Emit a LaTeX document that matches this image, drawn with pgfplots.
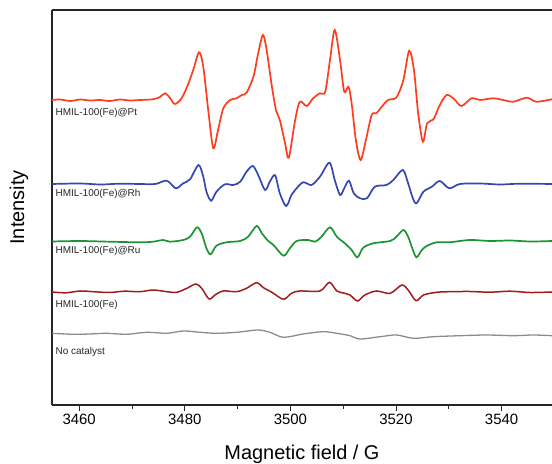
\documentclass[border=0pt]{standalone}
\usepackage{pgfplots}
\pgfplotsset{compat=1.18}
\usepackage{fontspec}
\setmainfont{Liberation Sans}
\setsansfont{Liberation Sans}

\definecolor{ptcol}{RGB}{255,60,30}
\definecolor{rhcol}{RGB}{52,72,176}
\definecolor{rucol}{RGB}{28,148,52}
\definecolor{fecol}{RGB}{160,28,28}
\definecolor{nocol}{RGB}{140,140,140}

\begin{document}
\begin{tikzpicture}
\useasboundingbox (-52bp,-59bp) rectangle (500bp,405bp);
\begin{axis}[
    at={(0,0)}, anchor=south west,
    scale only axis,
    width=500bp, height=395bp,
    xmin=3454.85, xmax=3549.55,
    ymin=0, ymax=395,
    axis x line*=box, axis y line*=left,
    axis line style={line width=1.1bp, black!85},
    xtick={3460,3480,3500,3520,3540},
    minor x tick num=1,
    xtick pos=bottom,
    ytick=\empty,
    tick align=outside,
    major tick length=6bp, minor tick length=3.5bp,
    tick style={line width=0.9bp, black!85},
    /pgf/number format/1000 sep={},
    /pgf/number format/assume math mode=true,
    ticklabel style={font=\fontsize{15}{15}\selectfont},
    xlabel={Magnetic field / G},
    ylabel={Intensity},
    xlabel style={font=\fontsize{20}{20}\selectfont, at={(axis description cs:0.5,-0.1367)}, anchor=base},
    ylabel style={font=\fontsize{20}{20}\selectfont, at={(axis description cs:-0.066,0.5)}, anchor=center},
    every axis plot/.append style={smooth, tension=0.5},
    clip=true,
]
% HMIL-100(Fe)@Pt
\addplot[ptcol, line width=1.7bp] coordinates {
(3454.85,305) (3456.4,305.5) (3458.3,304) (3460.2,305.5) (3462.0,304.5) (3463.9,305)
(3465.8,304) (3467.7,305.5) (3469.6,304.5) (3471.5,305) (3474.0,305.7) (3475.3,308)
(3476.3,311.7) (3477.2,307) (3478.1,301) (3479.4,306.7) (3480.7,321.7) (3481.7,336.7)
(3482.7,352.7) (3483.5,338.3) (3484.5,292) (3485.4,256.7) (3486.3,275) (3487.3,296.7)
(3488.6,305) (3489.8,306.7) (3490.8,310) (3491.7,312.3) (3493.0,328.3) (3493.9,351.7)
(3494.8,370) (3495.5,355) (3496.5,318.3) (3497.3,294.3) (3498.0,285) (3499.0,261.7)
(3499.7,247.3) (3500.9,285) (3501.8,303.3) (3503.1,299) (3504.3,306.7) (3505.6,311.7)
(3506.6,313.3) (3507.5,345) (3508.4,375) (3509.4,345) (3510.2,313.3) (3511.0,318.3)
(3511.6,301.7) (3512.4,265) (3513.3,245) (3514.3,265) (3515.4,290) (3516.3,291.7)
(3517.3,298.3) (3518.5,305) (3520.1,307.7) (3521.4,325) (3522.5,354.3) (3523.4,335)
(3524.2,291.7) (3525.1,263.3) (3525.9,281.7) (3527.1,285.7) (3528.3,300) (3529.6,310)
(3531.0,306) (3532.4,299) (3534.3,306.7) (3535.9,305) (3538.4,306.7) (3540.3,305)
(3542.2,303.3) (3544.8,307.3) (3546.6,303.3) (3549.55,305.7)
};
% HMIL-100(Fe)@Rh
\addplot[rhcol, line width=1.7bp] coordinates {
(3454.85,221) (3460.2,221.5) (3464.0,220.5) (3467.7,221.3) (3471.5,221) (3474.4,221)
(3476.6,224.3) (3478.3,216.7) (3479.7,221.7) (3481.0,225.7) (3482.6,240) (3483.5,228.3)
(3484.1,213.3) (3485.0,204.3) (3486.0,213.3) (3487.6,220.7) (3489.2,220) (3490.5,223.3)
(3491.7,233.3) (3492.9,239) (3493.9,230) (3495.2,215) (3496.1,223.3) (3497.1,229.7)
(3498.0,211.7) (3499.2,199) (3500.2,210) (3500.9,215) (3502.4,222.7) (3504.0,220)
(3505.6,228.3) (3507.4,242.3) (3508.4,225) (3509.4,210) (3510.2,216.7) (3511.1,224.3)
(3512.0,211.7) (3513.2,206.7) (3514.5,206.7) (3516.0,218.3) (3518.2,220) (3519.5,225)
(3521.3,235) (3522.3,221.7) (3523.2,206.7) (3523.9,201.7) (3525.2,213.3) (3526.8,218.3)
(3528.3,224) (3530.1,216.7) (3532.1,221) (3535.9,221.5) (3539.7,220.5) (3543.5,221.3)
(3549.55,221)
};
% HMIL-100(Fe)@Ru
\addplot[rucol, line width=1.7bp] coordinates {
(3454.85,163.5) (3460.2,164) (3465.8,163.3) (3471.5,162.7) (3474.0,163.3) (3475.9,165)
(3477.2,163.3) (3479.7,165) (3481.0,168.3) (3482.3,177.7) (3483.2,171.7) (3484.1,156.7)
(3484.9,150.7) (3486.0,159.3) (3487.9,162.7) (3490.5,164) (3492.0,168.3) (3493.6,179)
(3494.6,171.7) (3495.8,164) (3496.8,160) (3498.7,149.3) (3499.9,156.7) (3501.2,164)
(3503.4,165) (3504.7,163.3) (3505.9,168.3) (3507.5,177.7) (3508.8,168.3) (3510.3,161.7)
(3511.6,155) (3512.7,147.7) (3513.8,157.3) (3515.7,161.7) (3518.9,164) (3520.1,168.3)
(3521.4,175) (3522.3,168.3) (3523.2,155) (3523.9,147.7) (3524.9,155) (3525.8,159)
(3527.7,162.7) (3530.1,162.7) (3534.0,165) (3537.8,164) (3541.6,164.5) (3545.4,163.5)
(3549.55,164)
};
% HMIL-100(Fe)
\addplot[fecol, line width=1.5bp] coordinates {
(3454.85,113) (3457.5,112.2) (3460.2,114) (3463,113.2) (3465.8,112.5) (3468.5,113.8)
(3471.5,113.3) (3474.0,115) (3476.6,113.3) (3478.5,112.7) (3480.4,116.7) (3482.1,121)
(3483.2,116.7) (3484.6,106) (3485.7,110) (3487.3,114) (3489.8,113.3) (3491.7,116.7)
(3493.6,122.3) (3494.9,117.3) (3496.5,112.7) (3498.7,105.7) (3500.2,111.7) (3501.8,114)
(3505.6,114) (3507.4,122.7) (3508.8,114) (3510.3,111.7) (3511.3,110) (3512.7,104)
(3514.1,110) (3516.3,114) (3518.9,111.7) (3521.1,120) (3522.3,115) (3523.8,104.3)
(3525.2,110) (3527.7,112.7) (3530.1,113.3) (3534.0,113.5) (3537.8,112.8) (3541.6,113.8)
(3545.4,112.5) (3549.55,113)
};
% No catalyst
\addplot[nocol, line width=1.3bp] coordinates {
(3454.85,71.7) (3458.9,70.7) (3462.0,71) (3465.2,71.7) (3469.0,70.7) (3472.8,72.7)
(3476.6,71.7) (3479.7,74) (3482.9,72.7) (3486.0,71.7) (3489.8,72.7) (3493.9,75)
(3496.1,72.7) (3498.7,67.7) (3502.4,71) (3506.2,73.3) (3508.8,71.7) (3511.3,69.3)
(3513.2,66) (3517.0,68.3) (3520.1,70) (3523.3,66.7) (3527.1,68.3) (3532.1,69.3)
(3537.2,70) (3542.2,69.3) (3546.0,70) (3549.55,69.3)
};
\begin{scope}[every node/.style={anchor=west, inner sep=0pt, font=\fontsize{10}{10}\selectfont, text=black!85}]
\node at (axis cs:3455.5,292) {HMIL-100(Fe)@Pt};
\node at (axis cs:3455.5,211) {HMIL-100(Fe)@Rh};
\node at (axis cs:3455.5,154.3) {HMIL-100(Fe)@Ru};
\node at (axis cs:3455.5,100) {HMIL-100(Fe)};
\node at (axis cs:3455.5,53.3) {No catalyst};
\end{scope}
\end{axis}
\end{tikzpicture}
\end{document}
